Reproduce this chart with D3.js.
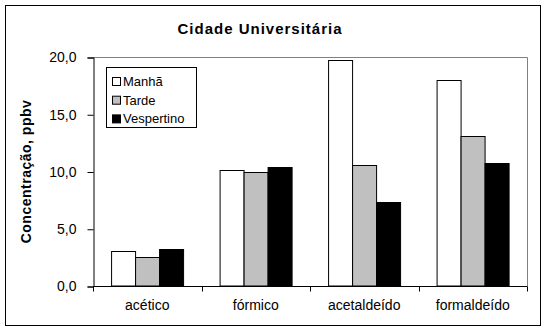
<!DOCTYPE html>
<html>
<head>
<meta charset="utf-8">
<script src="https://cdn.jsdelivr.net/npm/d3@7/dist/d3.min.js"></script>
<style>
  body { margin: 0; background: #fff; }
  text { font-family: "Liberation Sans", Arial, sans-serif; fill: #000; }
</style>
</head>
<body>
<script>
// data
var categories = ["acético", "fórmico", "acetaldeído", "formaldeído"];
var seriesNames = ["Manhã", "Tarde", "Vespertino"];
var seriesColors = ["#ffffff", "#c0c0c0", "#000000"];
var manha = [3.1, 10.1, 19.7, 18.0];
var tarde = [2.5, 10.0, 10.6, 13.1];
var vespertino = [3.2, 10.4, 7.3, 10.7];
var yTicks = [0, 5, 10, 15, 20];

var seriesValues = [manha, tarde, vespertino];

var w = 546, h = 331;
var pLeft = 93, pRight = 527, pTop = 57, pBottom = 286;

var svg = d3.select("body").append("svg")
    .attr("width", w)
    .attr("height", h);

// outer frame
svg.append("rect")
    .attr("x", 5.5).attr("y", 5.5)
    .attr("width", 535).attr("height", 320)
    .attr("fill", "#fff").attr("stroke", "#000");

var x0 = d3.scaleBand()
    .domain(categories)
    .range([pLeft, pRight])
    .paddingInner(1 / 3)
    .paddingOuter(1 / 6);

var x1 = d3.scaleBand()
    .domain(seriesNames)
    .range([0, x0.bandwidth()]);

var y = d3.scaleLinear()
    .domain([0, 20])
    .range([pBottom, pTop]);

// plot area border (gray top and right)
svg.append("path")
    .attr("d", "M" + pLeft + "," + (pTop + 0.5) + "H" + (pRight + 0.5) + "V" + pBottom)
    .attr("fill", "none")
    .attr("stroke", "#808080");

// bars
var groups = svg.selectAll("g.cat")
    .data(categories)
    .enter()
    .append("g")
    .attr("class", "cat")
    .attr("transform", function(d) { return "translate(" + x0(d) + ",0)"; });

groups.selectAll("rect")
    .data(function(d, i) {
        return seriesNames.map(function(s, j) { return {s: s, v: seriesValues[j][i], c: seriesColors[j]}; });
    })
    .enter()
    .append("rect")
    .attr("x", function(d) { return Math.round(x1(d.s)) + 0.5; })
    .attr("y", function(d) { return Math.round(y(d.v)) + 0.5; })
    .attr("width", function(d) { return Math.round(x1.bandwidth()); })
    .attr("height", function(d) { return pBottom - Math.round(y(d.v)) - 0.5; })
    .attr("fill", function(d) { return d.c; })
    .attr("stroke", "#000");

// y axis
var yAxis = d3.axisLeft(y)
    .tickValues(yTicks)
    .tickSize(6)
    .tickPadding(11)
    .tickFormat(function(d) { return d3.format(".1f")(d).replace(".", ","); });

var gy = svg.append("g")
    .attr("transform", "translate(" + (pLeft + 0.5) + ",0.5)")
    .call(yAxis);
gy.select(".domain").attr("stroke", "#000");
gy.selectAll("text").style("font-size", "14px").style("font-family", "Liberation Sans, Arial, sans-serif").attr("fill", "#000");

// x axis: ticks on category boundaries
var xAxis = d3.axisBottom(x0)
    .tickSize(0)
    .tickPadding(14);

var gx = svg.append("g")
    .attr("transform", "translate(0," + (pBottom + 0.5) + ")")
    .call(xAxis);
gx.select(".domain").attr("d", "M" + pLeft + ",0H" + (pRight + 0.5));
gx.selectAll("text").style("font-size", "14px").style("font-family", "Liberation Sans, Arial, sans-serif").attr("fill", "#000");

var step = x0.step();
gx.selectAll("line.bound")
    .data(d3.range(categories.length + 1))
    .enter()
    .append("line")
    .attr("class", "bound")
    .attr("x1", function(i) { return Math.round(pLeft + i * step) + 0.5; })
    .attr("x2", function(i) { return Math.round(pLeft + i * step) + 0.5; })
    .attr("y1", 0).attr("y2", 5)
    .attr("stroke", "#000");

// title
svg.append("text")
    .attr("x", 260).attr("y", 34)
    .attr("text-anchor", "middle")
    .style("font-size", "15px")
    .style("font-weight", "bold")
    .style("letter-spacing", "1px")
    .text("Cidade Universitária");

// y title
svg.append("text")
    .attr("transform", "translate(31," + ((pTop + pBottom) / 2) + ") rotate(-90)")
    .attr("text-anchor", "middle")
    .style("font-size", "14px")
    .style("font-weight", "bold")
    .style("letter-spacing", "0.5px")
    .text("Concentração, ppbv");

// legend
var lg = svg.append("g").attr("transform", "translate(106,67)");
lg.append("rect")
    .attr("x", 0.5).attr("y", 0.5)
    .attr("width", 90).attr("height", 60)
    .attr("fill", "#fff").attr("stroke", "#000");

var items = lg.selectAll("g.item")
    .data(seriesNames)
    .enter()
    .append("g")
    .attr("class", "item")
    .attr("transform", function(d, i) { return "translate(0," + (i * 18.7) + ")"; });

items.append("rect")
    .attr("x", 6.5).attr("y", 10.5)
    .attr("width", 8).attr("height", 8)
    .attr("fill", function(d, i) { return seriesColors[i]; })
    .attr("stroke", "#000");

items.append("text")
    .attr("x", 17).attr("y", 19)
    .style("font-size", "13px")
    .text(function(d) { return d; });
</script>
</body>
</html>
